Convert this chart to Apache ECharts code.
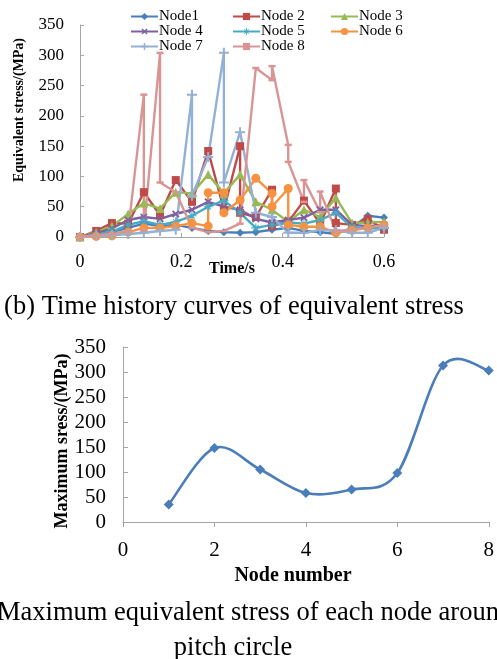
<!DOCTYPE html>
<html><head><meta charset="utf-8">
<script src="https://cdn.jsdelivr.net/npm/echarts@6/dist/echarts.min.js"></script>
<style>html,body{margin:0;padding:0;background:#fff;}#c{width:497px;height:659px;}</style>
</head><body><div id="c"></div>
<script>
// ---- data: top chart (time history of equivalent stress) ----
const xTicksTop = [0, 0.2, 0.4, 0.6];
const times = [0, 0.032, 0.063, 0.095, 0.126, 0.158, 0.189, 0.221, 0.253, 0.284, 0.316, 0.347, 0.379, 0.411, 0.442, 0.474, 0.505, 0.537, 0.568, 0.6];
const node1 = [0, 5, 8, 15, 22, 18, 20, 15, 10, 8, 7, 8, 12, 15, 10, 8, 5, 15, 35, 32];
const node3 = [0, 8, 18, 38, 56, 47, 74, 72, 103, 72, 103, 58, 45, 25, 45, 33, 65, 23, 24, 25];
const node4 = [0, 6, 14, 28, 33, 30, 38, 45, 58, 50, 45, 30, 24, 28, 32, 45, 45, 20, 18, 20];
const node5 = [0, 4, 9, 20, 26, 20, 25, 35, 50, 60, 40, 15, 20, 24, 22, 28, 40, 16, 14, 15];
// series with repeated time instants: [time, value]
const node2 = [[0,0],[0.032,10],[0.063,23],[0.095,22],[0.126,74],[0.158,36],[0.189,94],[0.221,58],[0.253,142],[0.284,45],[0.316,150],[0.316,40],[0.347,33],[0.379,78],[0.379,18],[0.411,25],[0.442,60],[0.474,22],[0.505,80],[0.505,23],[0.537,20],[0.568,30],[0.6,12]];
const node6 = [[0,0],[0.032,1],[0.063,2],[0.095,8],[0.126,15],[0.158,15],[0.189,18],[0.221,23],[0.253,18],[0.253,73],[0.284,73],[0.284,40],[0.316,61],[0.347,97],[0.379,72],[0.379,50],[0.411,80],[0.411,20],[0.442,17],[0.474,17],[0.505,7],[0.537,11],[0.568,15],[0.6,20]];
const node7 = [[0,0],[0.032,2],[0.063,3],[0.095,5],[0.126,7],[0.158,10],[0.189,12],[0.221,235],[0.221,68],[0.253,132],[0.284,304],[0.284,90],[0.316,173],[0.347,40],[0.379,33],[0.411,7],[0.442,7],[0.474,11],[0.505,11],[0.537,7],[0.568,7],[0.6,15]];
const node8 = [[0,0],[0.032,3],[0.063,5],[0.095,10],[0.126,235],[0.126,10],[0.158,304],[0.158,90],[0.189,74],[0.221,15],[0.253,8],[0.284,10],[0.316,22],[0.347,279],[0.379,259],[0.379,282],[0.411,152],[0.411,124],[0.442,58],[0.442,94],[0.474,41],[0.474,75],[0.505,10],[0.537,12],[0.568,15],[0.6,20]];
const seriesNames = ['Node1','Node 2','Node 3','Node 4','Node 5','Node 6','Node 7','Node 8'];
// ---- data: bottom chart (maximum stress per node) ----
const xTicksBottom = [0, 2, 4, 6, 8];
const nodeNumbers = [1, 2, 3, 4, 5, 6, 7, 8];
const maxStress = [35, 148, 105, 58, 65, 98, 313, 303];

const pair = v => v.map((y, i) => [times[i], y]);
const SERIF = 'Liberation Serif';
const colors = ['#4A7EBB','#BE4B48','#98B954','#7D60A0','#46AAC5','#F69240','#93B0D6','#D99593'];
const plusPath = 'path://M4,0H6V4H10V6H6V10H4V6H0V4H4Z';
const starPath = 'path://M4.4,0H5.6V4.4H10V5.6H5.6V10H4.4V5.6H0V4.4H4.4Z M1.5,2.3L2.3,1.5L5,4.2L7.7,1.5L8.5,2.3L5.8,5L8.5,7.7L7.7,8.5L5,5.8L2.3,8.5L1.5,7.7L4.2,5Z';
const symbols = [
  {symbol:'diamond', symbolSize:8},
  {symbol:'rect', symbolSize:8},
  {symbol:'triangle', symbolSize:9},
  {symbol:plusPath, symbolSize:9, symbolRotate:45},
  {symbol:starPath, symbolSize:9},
  {symbol:'circle', symbolSize:9},
  {symbol:plusPath, symbolSize:10},
  {symbol:'rect', symbolSize:[7,2.5]}
];
const topData = [pair(node1), node2, pair(node3), pair(node4), pair(node5), node6, node7, node8];

const topSeries = topData.map((d, k) => Object.assign({
  name: seriesNames[k], type:'line', xAxisIndex:0, yAxisIndex:0, data:d,
  showAllSymbol:true, animation:false,
  lineStyle:{width:2.4, color:colors[k]}, itemStyle:{color:colors[k]}
}, symbols[k]));

// Catmull-Rom style smoothed curve (like the spreadsheet's smoothed line), built from the data via the axes
const curvePts = nodeNumbers.map((n, i) => [n, maxStress[i]]);
function renderSegment(params, api) {
  const i = params.dataIndex;
  const n = curvePts.length;
  if (i >= n - 1) return null;
  const P = k => api.coord(curvePts[Math.max(0, Math.min(n - 1, k))]);
  const p0 = P(i - 1), p1 = P(i), p2 = P(i + 1), p3 = P(i + 2);
  const t = 1 / 6;
  return {
    type:'bezierCurve',
    shape:{x1:p1[0], y1:p1[1], x2:p2[0], y2:p2[1],
      cpx1:p1[0] + (p2[0] - p0[0]) * t, cpy1:p1[1] + (p2[1] - p0[1]) * t,
      cpx2:p2[0] - (p3[0] - p1[0]) * t, cpy2:p2[1] - (p3[1] - p1[1]) * t},
    style:{stroke:'#4A7EBB', lineWidth:2.6, fill:null}
  };
}

const axisText = (size) => ({fontFamily:SERIF, fontSize:size, color:'#000'});
const chart = echarts.init(document.getElementById('c'));
const centerText = (text, x, y, font, rot) => ({type:'text', x, y, rotation:rot || 0,
  style:{text, x:0, y:0, textAlign:'center', textVerticalAlign:'middle', align:'center', verticalAlign:'middle', font, fill:'#000'}});
chart.setOption({
  backgroundColor:'#fff',
  animation:false,
  color: colors,
  legend: [
    {data:['Node1','Node 4','Node 7'], left:130, top:9},
    {data:['Node 2','Node 5','Node 8'], left:232, top:9},
    {data:['Node 3','Node 6'], left:330, top:9}
  ].map(l => Object.assign(l, {orient:'vertical', itemWidth:27, itemHeight:9, itemGap:0, padding:0,
     textStyle:{fontFamily:SERIF, fontSize:15, color:'#000', padding:[0,0,0,-4], lineHeight:14}})),
  grid: [
    {left:80, right:113, top:25, bottom:422},
    {left:123, right:6, top:347, bottom:137}
  ],
  xAxis: [
    {gridIndex:0, type:'value', min:0, max:0.6, interval:0.2,
     axisLine:{lineStyle:{color:'#A6A6A6'}}, axisTick:{show:true, inside:true, length:4, lineStyle:{color:'#A6A6A6'}},
     splitLine:{show:false}, axisLabel:Object.assign(axisText(18), {margin:16, formatter: v => String(v)})},
    {gridIndex:1, type:'value', min:0, max:8, interval:2,
     axisLine:{lineStyle:{color:'#A6A6A6'}}, axisTick:{show:true, length:5, lineStyle:{color:'#A6A6A6'}},
     splitLine:{show:false}, axisLabel:Object.assign(axisText(21), {margin:18})}
  ],
  yAxis: [
    {gridIndex:0, type:'value', min:0, max:350, interval:50,
     axisLine:{show:true, lineStyle:{color:'#A6A6A6'}}, axisTick:{show:true, inside:true, length:4, lineStyle:{color:'#A6A6A6'}},
     splitLine:{show:false}, axisLabel:Object.assign(axisText(17), {margin:16})},
    {gridIndex:1, type:'value', min:0, max:350, interval:50,
     axisLine:{show:true, lineStyle:{color:'#A6A6A6'}}, axisTick:{show:true, inside:true, length:5, lineStyle:{color:'#A6A6A6'}},
     splitLine:{show:false}, axisLabel:Object.assign(axisText(21), {margin:17})}
  ],
  series: topSeries.concat([
    {name:'MaximumCurve', type:'custom', xAxisIndex:1, yAxisIndex:1, data:curvePts,
     renderItem:renderSegment, animation:false, silent:true},
    {name:'Maximum', type:'line', xAxisIndex:1, yAxisIndex:1, data:curvePts,
     lineStyle:{width:0, opacity:0}, symbol:'diamond', symbolSize:10, animation:false,
     itemStyle:{color:'#4A7EBB'}}
  ]),
  graphic: [
    centerText('Equivalent stress/(MPa)', 19, 110, 'bold 14px "Liberation Serif"', Math.PI/2),
    centerText('Time/s', 232, 269, 'bold 16px "Liberation Serif"'),
    centerText('(b) Time history curves of equivalent stress', 234, 307, '26.5px "Liberation Serif"'),
    centerText('Maximum sress/(MPa)', 62, 441, 'bold 18px "Liberation Serif"', Math.PI/2),
    centerText('Node number', 293, 576, 'bold 20px "Liberation Serif"'),
    {type:'text', x:-3, y:613, style:{text:'Maximum equivalent stress of each node around', x:0, y:0, textAlign:'left', textVerticalAlign:'middle', align:'left', verticalAlign:'middle', font:'26.5px "Liberation Serif"', fill:'#000'}},
    centerText('pitch circle', 233, 648, '26.5px "Liberation Serif"')
  ]
});
</script></body></html>
